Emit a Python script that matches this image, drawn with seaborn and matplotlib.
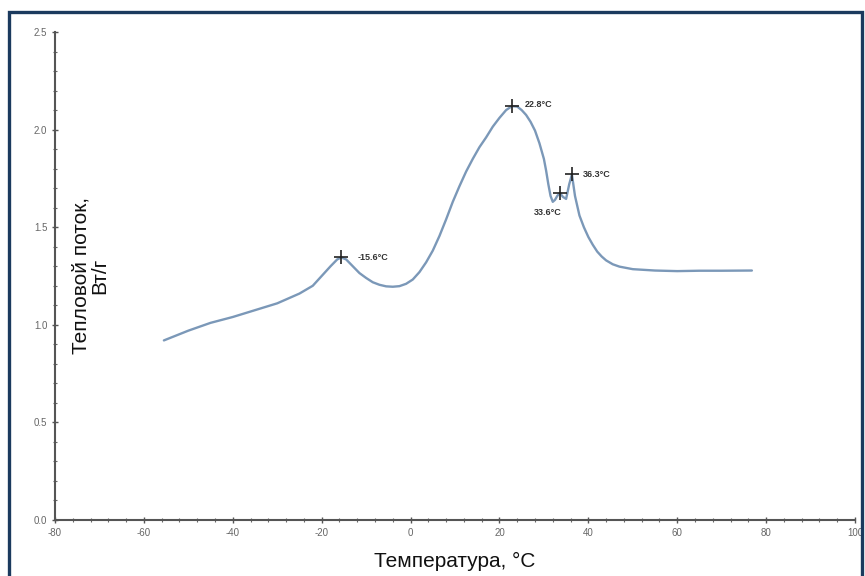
import numpy as np
import pandas as pd
import matplotlib
matplotlib.use("Agg")
import matplotlib.pyplot as plt
from matplotlib.patches import Rectangle
from matplotlib.ticker import MultipleLocator
import seaborn as sns

# ---- data ----
temperature = [-55.5, -50, -45, -40, -35, -30, -25, -22, -20, -18, -16.5, -15.6, -14.5, -13,
               -11.5, -10, -8.5, -7, -5.5, -4, -2.5, -1, 0.5, 2, 3.5, 5, 6.5, 8, 9.5, 11,
               12.5, 14, 15.5, 17, 18.5, 20, 21.5, 22.8, 24, 25, 26, 27, 28, 29, 30, 30.5,
               31.0, 31.5, 32.0, 32.5, 33.0, 33.6, 34.3, 35.0, 35.7, 36.3, 37.0, 38, 39,
               40, 41, 42, 43, 44, 45.5, 47, 50, 55, 60, 65, 70, 76.8]
heat_flow = [0.92, 0.97, 1.01, 1.04, 1.075, 1.11, 1.16, 1.2, 1.25, 1.30, 1.335, 1.345, 1.335,
             1.30, 1.265, 1.24, 1.218, 1.205, 1.197, 1.195, 1.198, 1.21, 1.232, 1.27, 1.32,
             1.38, 1.455, 1.54, 1.63, 1.71, 1.785, 1.85, 1.91, 1.96, 2.015, 2.06, 2.10, 2.12,
             2.118, 2.10, 2.075, 2.04, 1.995, 1.93, 1.85, 1.79, 1.72, 1.66, 1.63, 1.64, 1.66,
             1.675, 1.655, 1.645, 1.72, 1.77, 1.66, 1.56, 1.50, 1.45, 1.41, 1.375, 1.35,
             1.33, 1.31, 1.298, 1.285, 1.278, 1.275, 1.277, 1.277, 1.278]

peak_x = [-15.6, 22.8, 33.6, 36.3]
peak_y = [1.345, 2.12, 1.675, 1.77]
peak_labels = ["-15.6°C", "22.8°C", "33.6°C", "36.3°C"]

x_ticks = [-80, -60, -40, -20, 0, 20, 40, 60, 80, 100]
y_ticks = [0.0, 0.5, 1.0, 1.5, 2.0, 2.5]

df = pd.DataFrame({"T": temperature, "Q": heat_flow})

sns.set_style("white")
plt.rcParams["font.family"] = ["Liberation Sans", "DejaVu Sans"]

fig = plt.figure(figsize=(8.65, 5.76), dpi=100)
ax = fig.add_axes([55 / 865, 56 / 576, 800 / 865, 488 / 576])

sns.lineplot(data=df, x="T", y="Q", ax=ax, color="#7b98b8", linewidth=1.7)
sns.scatterplot(x=peak_x, y=peak_y, ax=ax, marker="+", color="#222222", s=90,
                linewidth=1.2, zorder=5)

offsets = [(12, 0), (9, 1), (-9, -14), (8, 0)]
has = ["left", "left", "center", "left"]
for x, y, lab, off, ha in zip(peak_x, peak_y, peak_labels, offsets, has):
    ax.annotate(lab, (x, y), xytext=off, textcoords="offset points", ha=ha, va="center",
                fontsize=6.5, fontweight="bold", color="#333333")

ax.set_xlim(-80, 100)
ax.set_ylim(0, 2.5)
ax.set_xticks(x_ticks)
ax.set_xticklabels([str(v) for v in x_ticks])
ax.set_yticks(y_ticks)
ax.set_yticklabels([f"{v:.1f}" for v in y_ticks])
ax.xaxis.set_minor_locator(MultipleLocator(4))
ax.yaxis.set_minor_locator(MultipleLocator(0.1))
ax.tick_params(which="major", direction="inout", length=5, width=1, color="#555555",
               labelsize=7, labelcolor="#666666", pad=3)
ax.tick_params(which="minor", direction="inout", length=3, width=0.8, color="#666666")
ax.tick_params(axis="x", which="both", bottom=True)
ax.tick_params(axis="y", which="both", left=True)

for s in ["top", "right"]:
    ax.spines[s].set_visible(False)
for s in ["left", "bottom"]:
    ax.spines[s].set_color("#555555")
    ax.spines[s].set_linewidth(1.5)

ax.set_xlabel("Температура, °C", fontsize=15, color="#111111", labelpad=10)
ax.set_ylabel("Тепловой поток,\nВт/г", fontsize=15, color="#111111",
              multialignment="center", linespacing=1.0)
ax.yaxis.set_label_coords(0.068, 0.5)

# figure frame
fig.patches.append(Rectangle((9 / 865, -0.05), 853 / 865, 1.05 - 12 / 576,
                             transform=fig.transFigure, fill=False,
                             edgecolor="#1b3a5e", linewidth=2.4, zorder=10))

fig.savefig("out.png", dpi=100)
